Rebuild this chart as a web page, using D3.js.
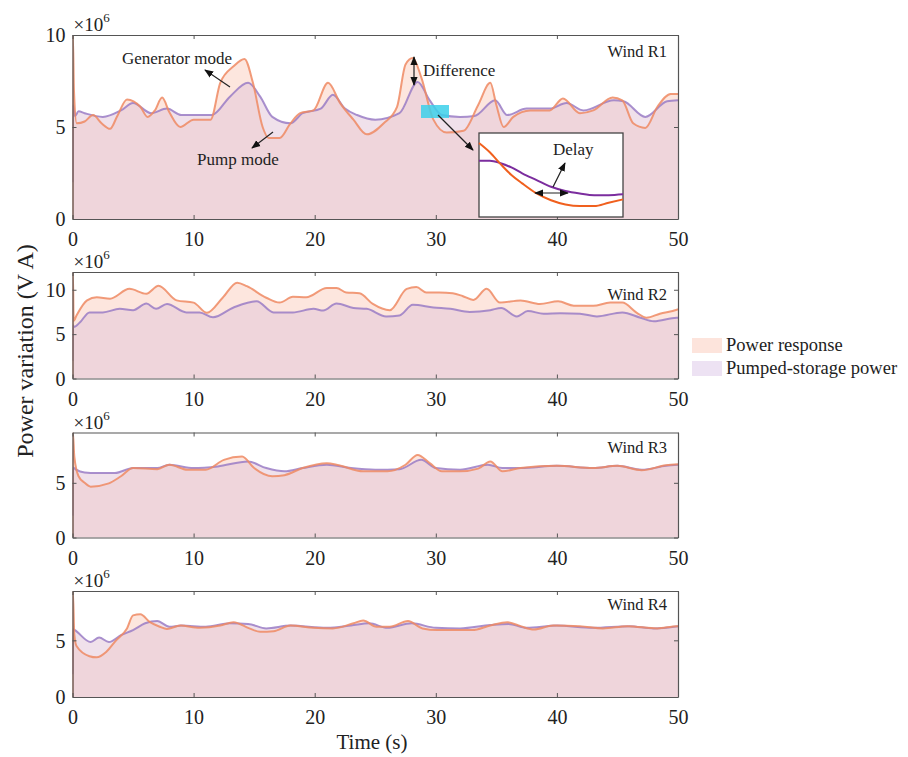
<!DOCTYPE html>
<html><head><meta charset="utf-8">
<script src="https://cdn.jsdelivr.net/npm/d3@7"></script>
<style>body{margin:0;background:#fff}svg{display:block}</style>
</head><body><svg id="c" width="908" height="757"></svg>
<script>
// ---------- DATA ----------
const xTicks = [0, 10, 20, 30, 40, 50];
const panelNames = ["Wind R1", "Wind R2", "Wind R3", "Wind R4"];
const yMax = [10, 12, 9.6, 9.35];
const yTicksList = [[0, 5, 10], [0, 5, 10], [0, 5], [0, 5]];
const legendLabels = ["Power response", "Pumped-storage power"];

// Wind R1
const r1RespT = [0,0.03,0.12,0.35,1.0,1.7,2.4,3.1,3.7,4.5,5.6,6.2,6.8,7.4,8.0,8.9,10,11.4,12.2,13.3,14.2,14.9,15.7,16.2,17.1,18,18.8,19.9,21.1,22.1,23.2,24.3,25.7,26.8,27.5,28.1,28.8,29.8,30.9,32.3,33.5,34.5,35.0,35.6,36.4,37.8,39.4,40.5,41.9,43,44.6,45.4,46.3,47.3,48.3,49.4,50];
const r1Resp  = [0,10,7,5.2,5.3,5.65,5.2,4.9,5.6,6.5,6.1,5.55,5.9,6.6,5.8,5.0,5.4,5.4,7.4,8.3,8.7,7.4,5.0,4.4,4.4,5.2,5.75,5.9,7.4,6.3,5.4,4.6,5.2,6.1,8.4,8.75,7.7,5.4,4.7,4.8,6.2,7.4,6.2,5.0,5.55,5.9,5.9,6.55,5.75,5.9,6.6,6.45,5.2,4.95,6.1,6.8,6.8];
const r1PumpT = [0,0.05,0.2,0.5,1,2.5,4,5,6.5,7.8,9,11.5,13,14.5,15.5,16.5,18,19,20.5,21.5,22.5,23.5,25,27,28.5,29.5,30.5,32,33.2,34.9,35.9,37.5,39.4,40.8,42.2,44.7,45.5,47.3,49.1,50];
const r1Pump  = [2,6.2,5.6,5.85,5.75,5.55,5.9,6.3,5.75,6.0,5.65,5.65,6.65,7.4,6.65,5.55,5.2,5.75,6.0,6.75,6.0,5.65,5.4,5.75,7.45,6.45,5.65,5.55,5.6,6.45,5.65,6.0,6.0,6.3,5.9,6.45,6.4,5.55,6.4,6.45];

// Wind R2
const r2RespT = [0,0.03,0.1,0.33,1.2,2,3.1,4.7,6.1,7.1,8.6,10,11.1,12.4,13.6,14.4,16,17.1,18.2,19.3,21,21.8,22.6,23.7,24.8,26.2,27.6,28.4,29.2,30.3,31.4,32.2,33.1,34.2,35.3,37,38.6,40.1,41.4,43,44.4,45.4,46.6,47.4,48.5,49.9,50];
const r2Resp  = [0,12,6.5,7.1,8.8,9.15,9.0,10.1,9.55,10.45,8.8,8.55,7.4,9.1,10.8,10.4,9.1,8.55,9.2,9.15,10.2,10.2,9.7,9.6,8.4,7.7,10.1,10.3,9.7,9.7,9.6,9.3,8.85,10.1,8.55,8.8,8.4,8.7,8.2,8.2,8.55,8.55,7.4,6.85,7.3,7.75,7.8];
const r2PumpT = [0,0.05,0.1,0.6,1.4,2.5,3.9,5,6.1,6.9,7.8,9.4,10.5,11.6,13.3,15.2,16.6,18.2,19.9,20.7,21.8,23.2,24.3,25.9,27,28.1,29.8,31.2,32.8,34.5,35.4,36.7,37.6,38.9,40.3,41.9,43.3,45.4,46.9,48,49.9,50];
const r2Pump  = [2,6.0,5.8,6.3,7.45,7.45,7.85,7.7,8.45,7.85,8.4,7.45,7.45,6.9,8.0,8.7,7.45,7.45,7.85,7.65,8.45,7.95,7.85,7.0,7.1,8.3,8.0,7.85,7.5,7.7,7.95,7.0,7.6,7.3,7.35,7.3,7.0,7.45,6.85,6.45,6.85,6.85];

// Wind R3
const r3RespT = [0,0.03,0.15,0.5,1,1.5,3,4,5,7,8,9.5,11,12.5,14,15,16.5,17.5,19,21,22,24,26,27.5,28.5,29.5,30.5,32,33.5,34.5,35.5,37,40,43,45,47,49,50];
const r3Resp  = [0,9.6,7.4,5.6,5.0,4.65,4.95,5.6,6.35,6.25,6.65,6.2,6.2,7.1,7.4,6.35,5.6,5.7,6.35,6.8,6.6,6.05,6.05,6.65,7.55,6.8,6.05,6.05,6.3,6.95,6.05,6.35,6.55,6.35,6.55,6.15,6.6,6.7];
const r3PumpT = [0,0.05,0.3,1,2,3.5,5,7,8,10,12,14.5,16,17.5,19,21,23,25,27,28.8,30,32,34.3,35.5,37,40,43,45,47,49,50];
const r3Pump  = [2,6.4,6.2,5.95,5.9,5.9,6.35,6.35,6.65,6.35,6.5,6.95,6.35,6.05,6.35,6.65,6.35,6.2,6.25,7.1,6.35,6.2,6.65,6.35,6.35,6.55,6.35,6.55,6.2,6.55,6.65];

// Wind R4
const r4RespT = [0,0.03,0.15,0.33,1.4,2,2.8,3.6,4.5,5,5.6,6.4,7.2,7.8,8.9,10.5,12.2,13.3,14.6,15.5,16.6,18,19.9,21.5,23.2,24,25.1,26.2,27.7,28.9,30.1,33,34.5,35.9,37,38.1,39.7,41.9,43.8,45.8,48.3,49.9,50];
const r4Resp  = [0,9.35,5.5,4.5,3.6,3.5,4.0,5.0,6.05,7.2,7.3,6.6,6.2,6.0,6.3,6.1,6.3,6.6,6.05,5.75,5.8,6.3,6.1,6.05,6.5,6.75,6.2,6.2,6.7,6.05,5.9,5.9,6.3,6.6,6.25,5.95,6.3,6.25,6.05,6.25,6.05,6.25,6.25];
const r4PumpT = [0,0.05,0.2,1.5,2.2,3,4,5,6,7,8,9,11,13,14.5,16,18,21,23,24.5,26,28,30,32,34.5,36,37.5,40,43,46,48,50];
const r4Pump  = [2,6.0,5.9,4.85,5.25,4.85,5.45,5.9,6.5,6.7,6.2,6.3,6.2,6.5,6.45,6.05,6.3,6.1,6.3,6.5,6.1,6.5,6.1,6.05,6.35,6.45,6.1,6.3,6.1,6.25,6.05,6.25];

// Inset (zoomed detail of Wind R1 around the highlighted box)
const insetT    = [29,29.15,29.3,29.45,29.6,29.8,30,30.2,30.4,30.6,30.8,31];
const insetResp = [5.88,5.77,5.63,5.50,5.40,5.28,5.20,5.15,5.13,5.13,5.17,5.21];
const insetPump = [5.67,5.67,5.64,5.59,5.52,5.44,5.36,5.31,5.28,5.26,5.26,5.27];

const respT = [r1RespT, r2RespT, r3RespT, r4RespT];
const resp  = [r1Resp, r2Resp, r3Resp, r4Resp];
const pumpT = [r1PumpT, r2PumpT, r3PumpT, r4PumpT];
const pump  = [r1Pump, r2Pump, r3Pump, r4Pump];

// ---------- LAYOUT ----------
const FONT = "'Liberation Serif','Times New Roman',Times,serif";
const L = 72.5, R = 678;
const tops = [35, 272, 432.5, 591];
const bottoms = [219, 378.5, 537.5, 697];
const nameDy = [22, 28, 20.5, 19];
const C = {
  respFill: "rgb(251,205,189)", pumpFill: "rgb(225,196,215)",
  respLine: "#ef8a63", pumpLine: "#9a7cc6", axis: "#555"
};

const svg = d3.select("#c");
svg.append("rect").attr("width", 908).attr("height", 757).attr("fill", "#fff");
const defs = svg.append("defs");
defs.append("marker").attr("id", "ah").attr("viewBox", "0 0 10 10")
  .attr("refX", 9).attr("refY", 5).attr("markerWidth", 9).attr("markerHeight", 9)
  .attr("markerUnits", "userSpaceOnUse").attr("orient", "auto-start-reverse")
  .append("path").attr("d", "M0,1 L10,5 L0,9 Z").attr("fill", "#111");

const x = d3.scaleLinear().domain([0, 50]).range([L, R]);

panelNames.forEach((name, i) => {
  const y = d3.scaleLinear().domain([0, yMax[i]]).range([bottoms[i], tops[i]]);
  const g = svg.append("g");
  const cid = "clip" + i;
  defs.append("clipPath").attr("id", cid).append("rect")
    .attr("x", L).attr("y", tops[i]).attr("width", R - L).attr("height", bottoms[i] - tops[i]);
  const rd = respT[i].map((t, k) => [t, resp[i][k]]);
  const pd = pumpT[i].map((t, k) => [t, pump[i][k]]);
  const area = d3.area().x(d => x(d[0])).y0(y(0)).y1(d => y(d[1])).curve(d3.curveMonotoneX);
  const line = d3.line().x(d => x(d[0])).y(d => y(d[1])).curve(d3.curveMonotoneX);
  const pg = g.append("g").attr("clip-path", `url(#${cid})`);
  pg.append("path").attr("d", area(rd)).attr("fill", C.respFill).attr("opacity", 0.5);
  pg.append("path").attr("d", area(pd)).attr("fill", C.pumpFill).attr("opacity", 0.5);
  pg.append("path").attr("d", line(pd)).attr("fill", "none").attr("stroke", C.pumpLine).attr("stroke-width", 2).attr("opacity", 0.85);
  pg.append("path").attr("d", line(rd)).attr("fill", "none").attr("stroke", C.respLine).attr("stroke-width", 2).attr("opacity", 0.85);

  // axes (inward ticks, box)
  const ax = (a) => a.tickSizeOuter(0).tickSizeInner(-4);
  const gb = g.append("g").attr("transform", `translate(0,${bottoms[i]})`)
    .call(ax(d3.axisBottom(x).tickValues(xTicks).tickFormat(d3.format("d"))).tickPadding(13));
  const gt = g.append("g").attr("transform", `translate(0,${tops[i]})`)
    .call(ax(d3.axisTop(x).tickValues(xTicks).tickFormat("")));
  const gl = g.append("g").attr("transform", `translate(${L},0)`)
    .call(ax(d3.axisLeft(y).tickValues(yTicksList[i]).tickFormat(d3.format("d"))).tickPadding(7));
  const gr = g.append("g").attr("transform", `translate(${R},0)`)
    .call(ax(d3.axisRight(y).tickValues(yTicksList[i]).tickFormat("")));
  [gb, gt, gl, gr].forEach(a => {
    a.select(".domain").attr("stroke", C.axis).attr("stroke-width", 1.2);
    a.selectAll(".tick line").attr("stroke", C.axis);
    a.selectAll("text").attr("font-family", FONT).attr("font-size", 20).attr("fill", "#222");
  });
  gl.selectAll("text").attr("dy", "0.34em");
  gb.selectAll("text").attr("dy", "0.7em");

  // exponent label
  const ex = g.append("text").attr("x", L + 1).attr("y", tops[i] - 4)
    .attr("font-family", FONT).attr("font-size", 19).attr("fill", "#222");
  ex.append("tspan").text("×10");
  ex.append("tspan").text("6").attr("font-size", 13).attr("dy", -9);

  g.append("text").attr("x", 667).attr("y", tops[i] + nameDy[i]).attr("text-anchor", "end")
    .attr("font-family", FONT).attr("font-size", 16.5).attr("fill", "#222").text(name);

  if (i === 0) {
    // highlight box
    g.append("rect").attr("x", 421).attr("y", 105).attr("width", 28).attr("height", 13)
      .attr("fill", "#3cd0ea").attr("opacity", 0.85);
    // inset
    const ix = d3.scaleLinear().domain([29, 31]).range([479, 623]);
    const iy = d3.scaleLinear().domain([5.0, 6.0]).range([217, 133]);
    g.append("rect").attr("x", 479).attr("y", 133).attr("width", 144).attr("height", 84)
      .attr("fill", "#fff").attr("stroke", "#444").attr("stroke-width", 1.3);
    const il = d3.line().x((d, k) => ix(insetT[k])).y(d => iy(d)).curve(d3.curveMonotoneX);
    g.append("path").attr("d", il(insetPump)).attr("fill", "none").attr("stroke", "#7b2d9e").attr("stroke-width", 2);
    g.append("path").attr("d", il(insetResp)).attr("fill", "none").attr("stroke", "#f0601e").attr("stroke-width", 2);

    const arrow = (x1, y1, x2, y2, both) => {
      const p = g.append("line").attr("x1", x1).attr("y1", y1).attr("x2", x2).attr("y2", y2)
        .attr("stroke", "#222").attr("stroke-width", 1.2).attr("marker-end", "url(#ah)");
      if (both) p.attr("marker-start", "url(#ah)");
    };
    arrow(230, 87, 205, 70);
    arrow(273, 132, 252, 148);
    arrow(414, 57, 414, 85, true);
    arrow(438, 115, 473, 150);
    arrow(553, 187, 565, 163);
    arrow(535, 193, 568, 193, true);

    const ann = (t, ax_, ay) => g.append("text").attr("x", ax_).attr("y", ay)
      .attr("font-family", FONT).attr("font-size", 17).attr("fill", "#222").text(t);
    ann("Generator mode", 122, 64);
    ann("Pump mode", 197, 165);
    ann("Difference", 423, 76);
    ann("Delay", 553, 155);
  }
});

// axis titles
svg.append("text").attr("transform", "translate(33,351) rotate(-90)").attr("text-anchor", "middle")
  .attr("font-family", FONT).attr("font-size", 24).attr("fill", "#222").text("Power variation (V A)");
svg.append("text").attr("x", 372).attr("y", 749).attr("text-anchor", "middle")
  .attr("font-family", FONT).attr("font-size", 21).attr("fill", "#222").text("Time (s)");

// legend
const lg = svg.append("g");
const lgFill = ["#fde4dc", "#ede2f3"];
legendLabels.forEach((t, k) => {
  const yy = 338 + k * 23;
  lg.append("rect").attr("x", 692).attr("y", yy).attr("width", 30).attr("height", 15).attr("fill", lgFill[k]);
  lg.append("text").attr("x", 726).attr("y", yy + 13).attr("font-family", FONT).attr("font-size", 18.5)
    .attr("fill", "#222").text(t);
});
</script></body></html>
